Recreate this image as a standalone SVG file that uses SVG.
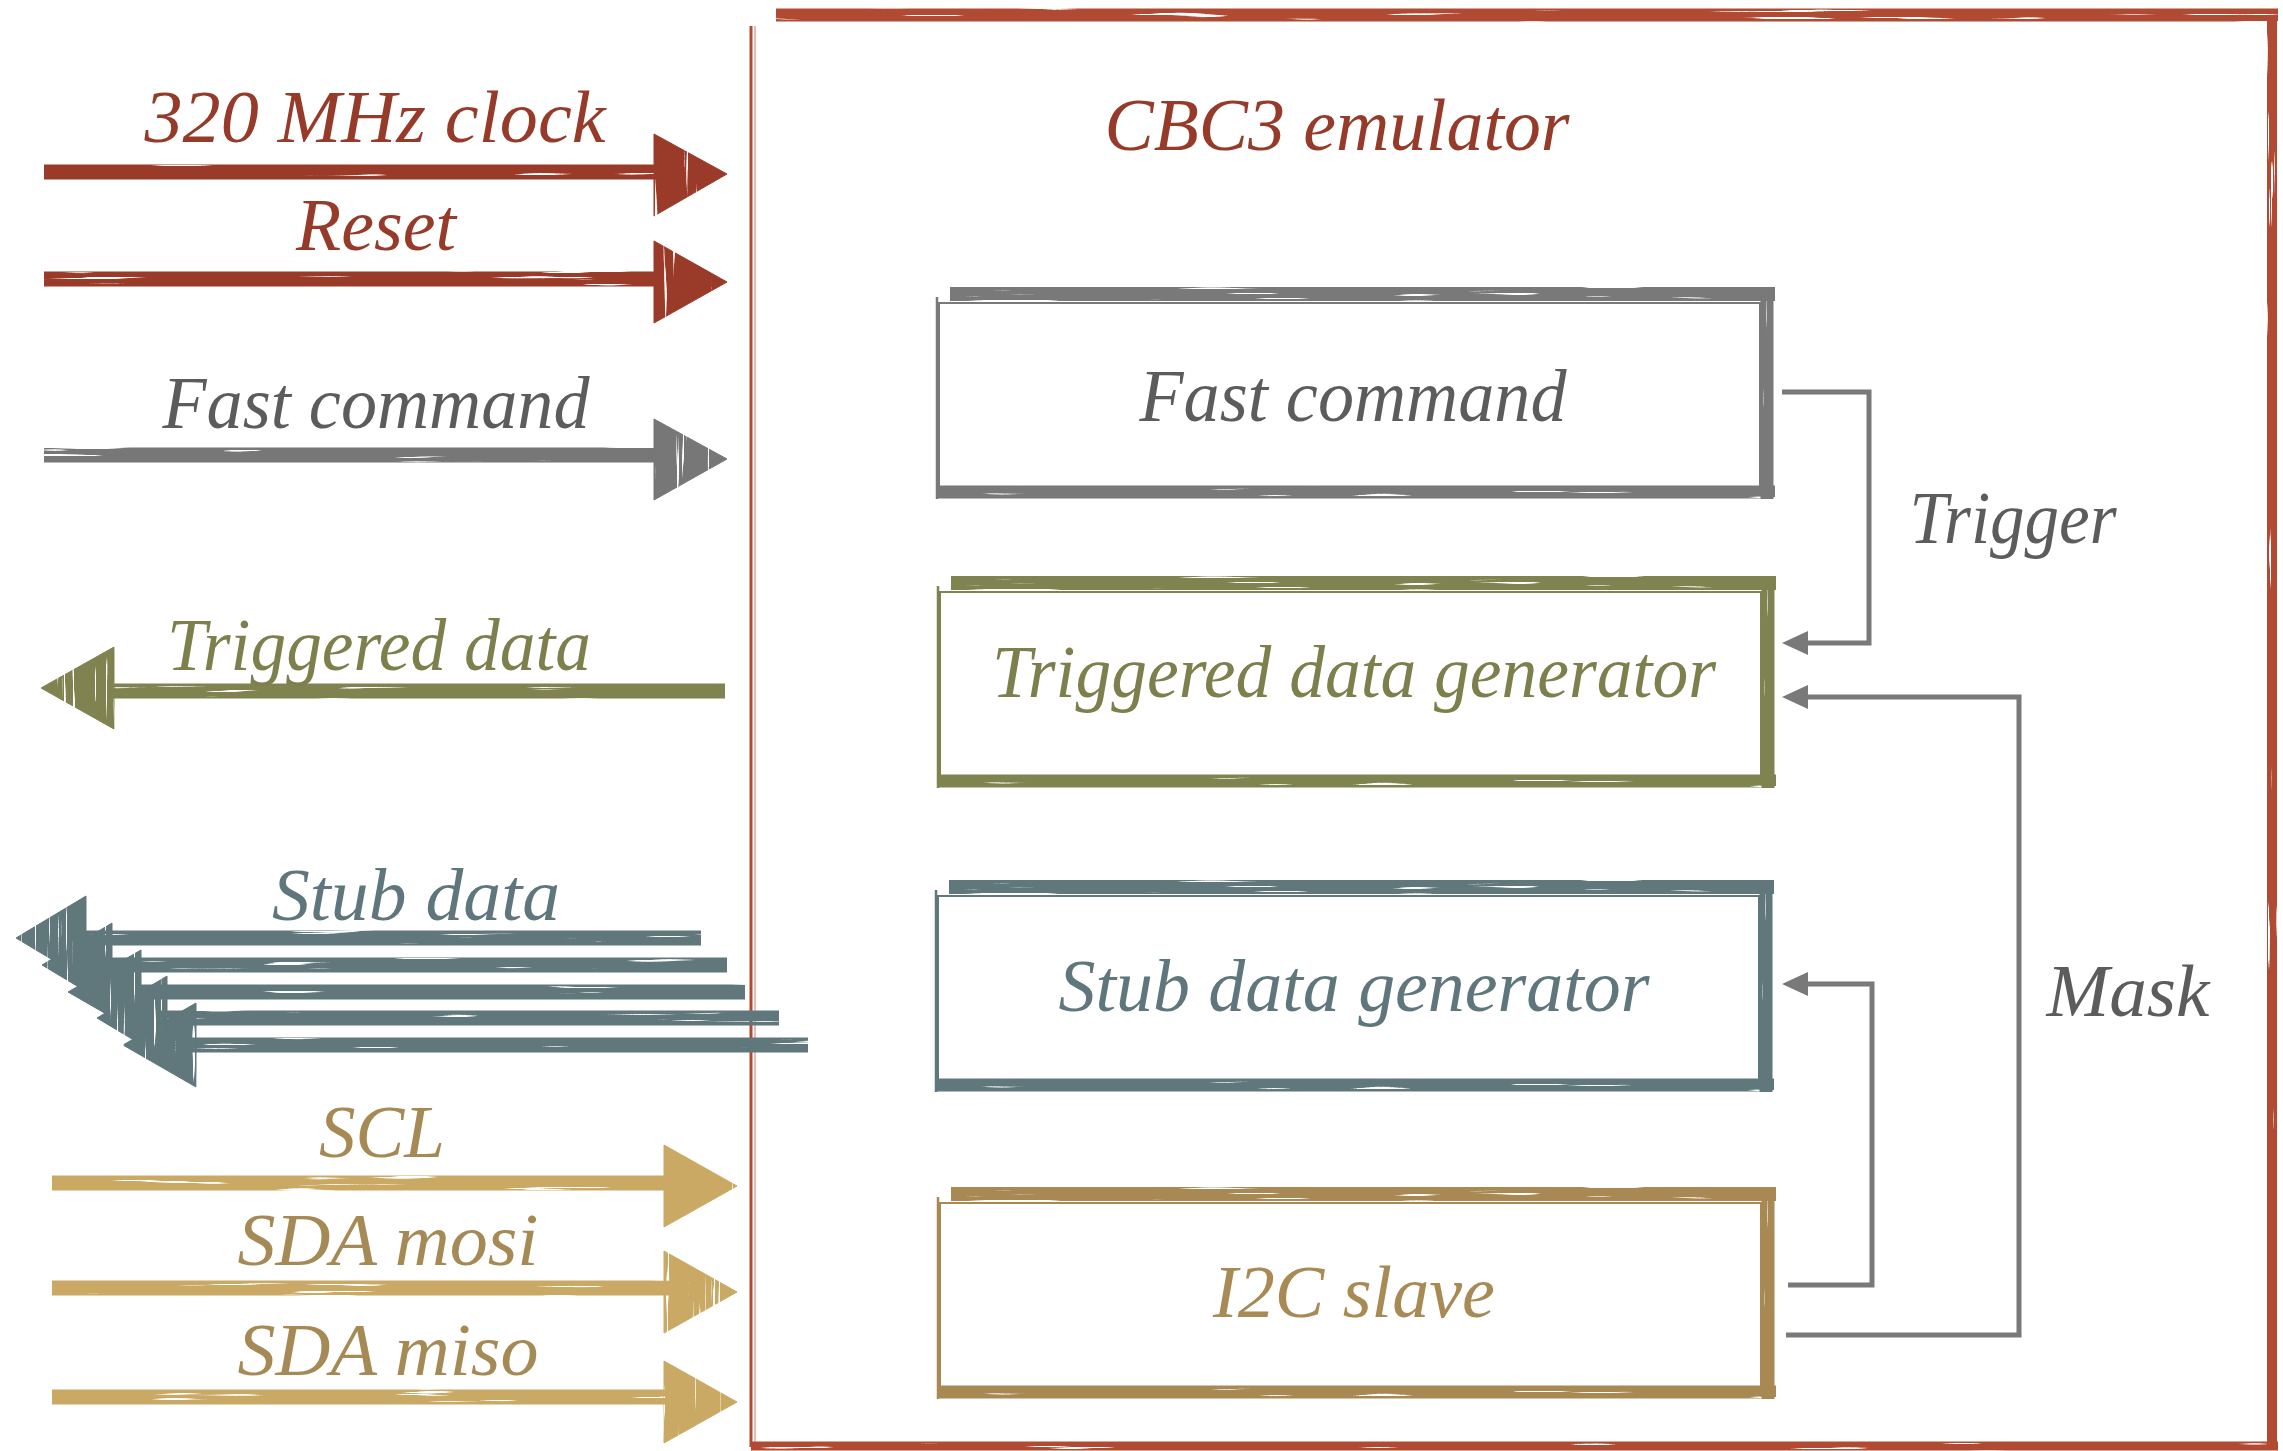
<svg xmlns="http://www.w3.org/2000/svg" xmlns:xlink="http://www.w3.org/1999/xlink" width="2283" height="1451" viewBox="0 0 2283 1451">
<defs>
<style>
text{font-family:"Liberation Serif","Times New Roman",serif;font-style:italic;font-size:75px;text-anchor:middle}
.tred{fill:#963a2a}.tgray{fill:#5c5c5c}.tolive{fill:#7d7f4d}.tslate{fill:#5f777c}.tgold{fill:#a58a55}.tgold2{fill:#a88a55}
.shaft{stroke-width:15;fill:none}
.red{stroke:#9a3b2a;fill:#9a3b2a}.gray{stroke:#767776;fill:#767776}.olive{stroke:#808250;fill:#808250}.slate{stroke:#60777c;fill:#60777c}.gold{stroke:#caa965;fill:#caa965}
.conn{stroke:#787978;stroke-width:5;fill:none}
</style>
<filter id="bh" filterUnits="userSpaceOnUse" x="-200" y="-200" width="2700" height="1900" color-interpolation-filters="sRGB">
<feTurbulence type="fractalNoise" baseFrequency="0.008 0.3" numOctaves="2" seed="4" result="n"/>
<feColorMatrix in="n" type="matrix" values="0 0 0 0 0 0 0 0 0 0 0 0 0 0 0 20 0 0 0 -5.2" result="m"/>
<feComposite in="SourceGraphic" in2="m" operator="in"/>
</filter>
<filter id="bv" filterUnits="userSpaceOnUse" x="-200" y="-200" width="2700" height="1900" color-interpolation-filters="sRGB">
<feTurbulence type="fractalNoise" baseFrequency="0.3 0.008" numOctaves="2" seed="7" result="n"/>
<feColorMatrix in="n" type="matrix" values="0 0 0 0 0 0 0 0 0 0 0 0 0 0 0 20 0 0 0 -5.2" result="m"/>
<feComposite in="SourceGraphic" in2="m" operator="in"/>
</filter>
<marker id="ah" viewBox="0 0 26 26" refX="0" refY="13" markerWidth="26" markerHeight="26" markerUnits="userSpaceOnUse" orient="auto">
<path d="M0 1 L26 13 L0 25 Z" fill="#787978"/>
</marker>
<g id="boxframe" fill="none" stroke="currentColor">
<rect x="3" y="16" width="821" height="184" stroke-width="2"/>
<line x1="1" y1="10" x2="1" y2="212" stroke-width="2.5"/>
<line x1="14" y1="7" x2="839" y2="7" stroke-width="14" filter="url(#bh)"/>
<line x1="831" y1="0" x2="831" y2="212" stroke-width="13" filter="url(#bv)"/>
<line x1="0" y1="205" x2="839" y2="205" stroke-width="13" filter="url(#bh)"/>
</g>
</defs>

<g id="emulator">
<g fill="none" stroke="#b04a33">
<line x1="751" y1="26" x2="751" y2="1447" stroke-width="3"/>
<line x1="776" y1="15" x2="2278" y2="15" stroke-width="13" filter="url(#bh)"/>
<line x1="2272" y1="15" x2="2272" y2="1447" stroke-width="10" filter="url(#bv)"/>
<line x1="751" y1="1446" x2="2278" y2="1446" stroke-width="9" filter="url(#bh)"/>
<line x1="755" y1="26" x2="755" y2="1442" stroke-width="1.2" opacity="0.6"/>
</g>
<text class="tred" x="1337" y="150" textLength="465" lengthAdjust="spacingAndGlyphs">CBC3 emulator</text>
</g>

<g id="fast-command">
<use xlink:href="#boxframe" x="936" y="287" style="color:#787978"/>
<text class="tgray" x="1353" y="421" textLength="427" lengthAdjust="spacingAndGlyphs">Fast command</text>
</g>
<g id="triggered-data-generator">
<use xlink:href="#boxframe" x="937" y="576" style="color:#7f8350"/>
<text class="tolive" x="1354" y="697" textLength="724" lengthAdjust="spacingAndGlyphs">Triggered data generator</text>
</g>
<g id="stub-data-generator">
<use xlink:href="#boxframe" x="935" y="880" style="color:#60777c"/>
<text class="tslate" x="1354" y="1011" textLength="591" lengthAdjust="spacingAndGlyphs">Stub data generator</text>
</g>
<g id="i2c-slave">
<use xlink:href="#boxframe" x="937" y="1187" style="color:#a88953"/>
<text class="tgold2" x="1354" y="1317" textLength="282" lengthAdjust="spacingAndGlyphs">I2C slave</text>
</g>

<g id="connectors">
<path class="conn" d="M1782 392 H1869 V643 H1808" marker-end="url(#ah)"/>
<path class="conn" d="M1786 1335 H2019 V697 H1808" marker-end="url(#ah)"/>
<path class="conn" d="M1788 1285 H1872 V984 H1808" marker-end="url(#ah)"/>
<text class="tgray" x="2013" y="543" textLength="207" lengthAdjust="spacingAndGlyphs">Trigger</text>
<text class="tgray" x="2128" y="1016" textLength="163" lengthAdjust="spacingAndGlyphs">Mask</text>

<g id="clock" class="red">
<line class="shaft" x1="44" y1="172" x2="660" y2="172" filter="url(#bh)"/>
<polygon points="654,134 727,174 654,216" filter="url(#bv)"/>
</g>
<text class="tred" x="375" y="142" textLength="461" lengthAdjust="spacingAndGlyphs">320 MHz clock</text>
<g id="reset" class="red">
<line class="shaft" x1="44" y1="279" x2="660" y2="279" filter="url(#bh)"/>
<polygon points="654,241 727,282 654,323" filter="url(#bv)"/>
</g>
<text class="tred" x="376" y="250" textLength="160" lengthAdjust="spacingAndGlyphs">Reset</text>
<g id="fastcmd-in" class="gray">
<line class="shaft" x1="44" y1="455" x2="660" y2="455" filter="url(#bh)"/>
<polygon points="654,419 727,459 654,500" filter="url(#bv)"/>
</g>
<text class="tgray" x="376" y="428" textLength="427" lengthAdjust="spacingAndGlyphs">Fast command</text>
<g id="triggered-out" class="olive">
<line class="shaft" x1="108" y1="691" x2="725" y2="691" filter="url(#bh)"/>
<polygon points="114,647 41,688 114,729" filter="url(#bv)"/>
</g>
<text class="tolive" x="379" y="670" textLength="424" lengthAdjust="spacingAndGlyphs">Triggered data</text>
<g id="stub-out" class="slate">
<line class="shaft" x1="80" y1="938" x2="701" y2="938" filter="url(#bh)"/>
<polygon points="86,896 16,938 86,980" filter="url(#bv)"/>
<line class="shaft" x1="106" y1="965" x2="727" y2="965" filter="url(#bh)"/>
<polygon points="112,923 42,965 112,1007" filter="url(#bv)"/>
<line class="shaft" x1="135" y1="992" x2="745" y2="992" filter="url(#bh)"/>
<polygon points="141,950 68,992 141,1034" filter="url(#bv)"/>
<line class="shaft" x1="161" y1="1018" x2="779" y2="1018" filter="url(#bh)"/>
<polygon points="167,976 97,1018 167,1060" filter="url(#bv)"/>
<line class="shaft" x1="190" y1="1045" x2="808" y2="1045" filter="url(#bh)"/>
<polygon points="196,1003 123,1045 196,1087" filter="url(#bv)"/>
</g>
<text class="tslate" x="416" y="920" textLength="288" lengthAdjust="spacingAndGlyphs">Stub data</text>
<g id="scl" class="gold">
<line class="shaft" x1="52" y1="1183" x2="670" y2="1183" filter="url(#bh)"/>
<polygon points="664,1145 737,1186 664,1227" filter="url(#bv)"/>
</g>
<text class="tgold" x="382" y="1157" textLength="126" lengthAdjust="spacingAndGlyphs">SCL</text>
<g id="sda-mosi" class="gold">
<line class="shaft" x1="52" y1="1288" x2="670" y2="1288" filter="url(#bh)"/>
<polygon points="664,1251 737,1292 664,1333" filter="url(#bv)"/>
</g>
<text class="tgold" x="388" y="1265" textLength="301" lengthAdjust="spacingAndGlyphs">SDA mosi</text>
<g id="sda-miso" class="gold">
<line class="shaft" x1="52" y1="1397" x2="670" y2="1397" filter="url(#bh)"/>
<polygon points="664,1361 737,1402 664,1443" filter="url(#bv)"/>
</g>
<text class="tgold" x="388" y="1375" textLength="301" lengthAdjust="spacingAndGlyphs">SDA miso</text>
</g>
</svg>
